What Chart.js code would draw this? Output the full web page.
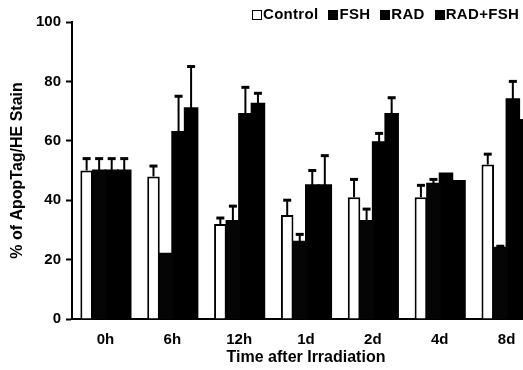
<!DOCTYPE html>
<html>
<head>
<meta charset="utf-8">
<script src="https://cdn.jsdelivr.net/npm/chart.js@4/dist/chart.umd.min.js"></script>
<style>
    body { margin: 0; background: #fff; }
    #marco { position: relative; width: 523px; height: 370px; overflow: hidden; }
    #leyenda {
        position: absolute; top: 5px; left: 252px;
        font: bold 15px 'Liberation Sans', Arial, sans-serif;
        color: #000; white-space: nowrap; letter-spacing: 0.3px;
    }
    #leyenda span { display: inline-block; margin-right: 10px; }
    #leyenda i {
        display: inline-block; width: 10px; height: 10px;
        margin-right: 1px; vertical-align: -1px; box-sizing: border-box;
        border: 1.5px solid #000;
    }
</style>
</head>
<body>
<div id="marco">
    <div id="leyenda"></div>
    <canvas id="grafica" width="545" height="370"></canvas>
</div>
<script>
const categorias = ["0h", "6h", "12h", "1d", "2d", "4d", "8d"];

const control    = [50, 48, 32, 35, 41, 41, 52];
const controlErr = [4, 3.5, 2, 5, 6, 4, 3.5];
const fsh        = [50, 22, 33, 26, 33, 45.5, 24];
const fshErr     = [4, 0, 5, 2.5, 4, 1.5, 0.5];
const rad        = [50, 63, 69, 45, 59.5, 49, 74];
const radErr     = [4, 12, 9, 5, 3, 0, 6];
const radFsh     = [50, 71, 72.5, 45, 69, 46.5, 67];
const radFshErr  = [4, 14, 3.5, 10, 5.5, 0, 0];

const series = [
    { label: "Control", data: control, err: controlErr, fondo: "#ffffff" },
    { label: "FSH", data: fsh, err: fshErr, fondo: "#050505" },
    { label: "RAD", data: rad, err: radErr, fondo: "#000000" },
    { label: "RAD+FSH", data: radFsh, err: radFshErr, fondo: "#000000" }
];

Chart.defaults.font.family = "'Liberation Sans', Arial, sans-serif";
Chart.defaults.color = "#000";

// barras de error hacia arriba con tope en T
const barrasError = {
    id: "barrasError",
    afterDatasetsDraw(chart) {
        const ctx = chart.ctx;
        const y = chart.scales.y;
        ctx.save();
        ctx.strokeStyle = "#000";
        chart.data.datasets.forEach((ds, i) => {
            const meta = chart.getDatasetMeta(i);
            meta.data.forEach((barra, j) => {
                const e = ds.err[j];
                if (!e) return;
                const yTop = y.getPixelForValue(ds.data[j] + e);
                ctx.lineWidth = 2;
                ctx.beginPath();
                ctx.moveTo(barra.x, barra.y);
                ctx.lineTo(barra.x, yTop);
                ctx.stroke();
                ctx.lineWidth = 3;
                ctx.beginPath();
                ctx.moveTo(barra.x - 4, yTop);
                ctx.lineTo(barra.x + 4, yTop);
                ctx.stroke();
            });
        });
        ctx.restore();
    }
};

let leyenda = document.getElementById("leyenda");
series.forEach((s) => {
    leyenda.innerHTML += `<span><i style="background:${s.fondo}"></i>${s.label}</span>`;
});

new Chart(document.getElementById("grafica"), {
    type: "bar",
    data: {
        labels: categorias,
        datasets: series.map((s) => ({
            label: s.label,
            data: s.data,
            err: s.err,
            backgroundColor: s.fondo,
            borderColor: "#000",
            borderWidth: s.label === "Control" ? 2 : 0,
            inflateAmount: s.label === "Control" ? 0 : 1,
            barPercentage: 1,
            categoryPercentage: 0.75
        }))
    },
    options: {
        responsive: false,
        animation: false,
        layout: { padding: { top: 22, right: 5 } },
        plugins: {
            legend: { display: false },
            tooltip: { enabled: false }
        },
        scales: {
            x: {
                grid: { display: false, drawTicks: false },
                border: { color: "#000", width: 2 },
                ticks: { font: { size: 15, weight: "bold" }, padding: 12 },
                title: {
                    display: true,
                    text: "Time after Irradiation",
                    font: { size: 16, weight: "bold" },
                    padding: { top: 0, bottom: 3 }
                },
                afterFit: (scale) => { scale.height = 51; }
            },
            y: {
                min: 0,
                max: 100,
                ticks: { stepSize: 20, font: { size: 15, weight: "bold" }, padding: 5 },
                grid: { drawOnChartArea: false, tickLength: 6, tickWidth: 2, tickColor: "#000" },
                border: { color: "#000", width: 2 },
                title: {
                    display: true,
                    text: "% of ApopTag/HE Stain",
                    font: { size: 16, weight: "bold" },
                    padding: { top: 8, bottom: 0 }
                },
                afterFit: (scale) => { scale.width = 72; }
            }
        }
    },
    plugins: [barrasError]
});
</script>
</body>
</html>
